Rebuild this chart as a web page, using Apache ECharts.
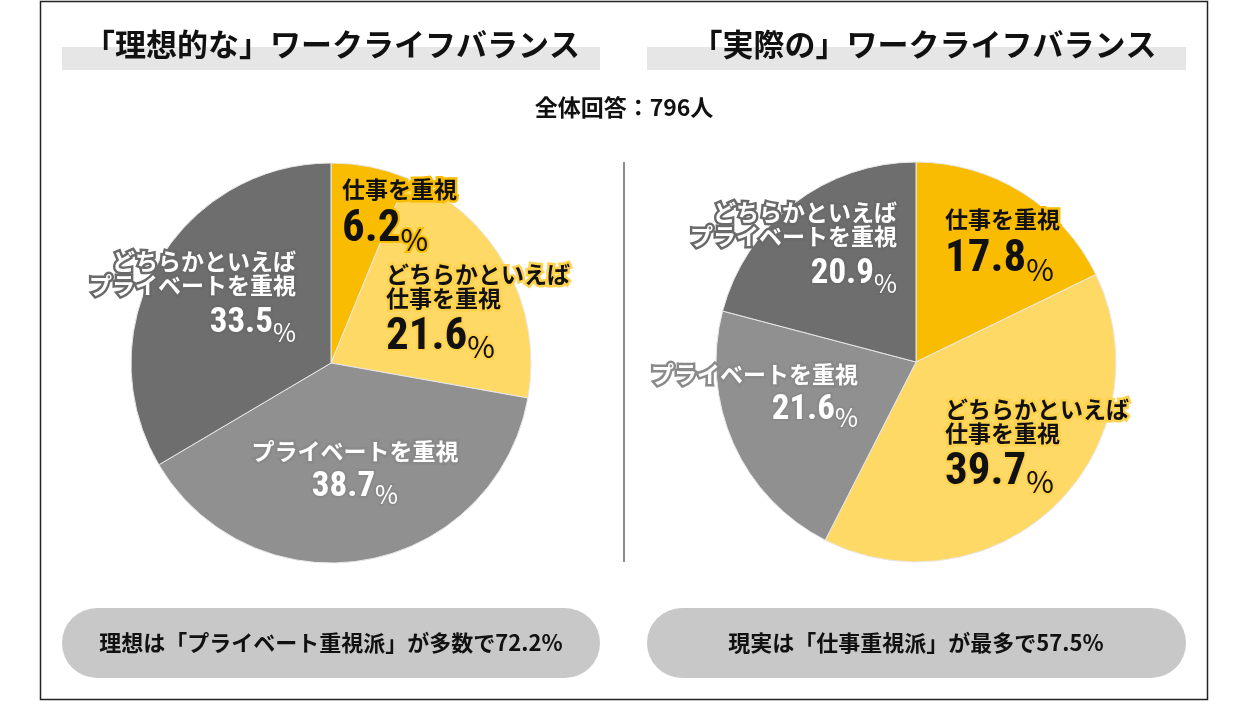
<!DOCTYPE html>
<html>
<head>
<meta charset="utf-8">
<script src="https://cdn.jsdelivr.net/npm/echarts@6/dist/echarts.min.js"></script>
<style>
html,body{margin:0;padding:0;background:#fff;}
#c{width:1248px;height:702px;}
</style>
</head>
<body>
<div id="c"></div>
<script>
// ---- data ----
const categories = ['仕事を重視', 'どちらかといえば\n仕事を重視', 'プライベートを重視', 'どちらかといえば\nプライベートを重視'];
const idealValues = [6.2, 21.6, 38.7, 33.5];
const actualValues = [17.8, 39.7, 21.6, 20.9];
const titles = ['「理想的な」ワークライフバランス', '「実際の」ワークライフバランス'];
const subtitle = '全体回答：796人';
const summaries = ['理想は「プライベート重視派」が多数で72.2%', '現実は「仕事重視派」が最多で57.5%'];

// ---- style / layout ----
const colors = ['#F9BC00', '#FFD966', '#909090', '#6E6E6E'];
const JP = '"Noto Sans CJK JP", "Noto Sans", sans-serif';

// pick a narrow font for the big numbers if one is installed
const mctx = document.createElement('canvas').getContext('2d');
function hasFont(f) {
  mctx.font = 'bold 100px monospace';
  const a = mctx.measureText('0123456789.').width;
  mctx.font = 'bold 100px "' + f + '", monospace';
  const b = mctx.measureText('0123456789.').width;
  return Math.abs(a - b) > 0.5;
}
const narrowCandidates = ['Roboto Condensed', 'Liberation Sans Narrow', 'DejaVu Sans Condensed', 'Noto Sans Condensed', 'Open Sans Condensed', 'Arial Narrow', 'Liberation Sans'];
let NUMF = 'Liberation Sans';
for (const f of narrowCandidates) { if (hasFont(f)) { NUMF = f; break; } }
const NUM = '"' + NUMF + '", sans-serif';
// font size so that "00.0" is about targetW wide, capped by maxSize
function numSize(targetW, maxSize) {
  mctx.font = 'bold 100px ' + NUM;
  const w = mctx.measureText('00.0').width;
  return Math.min(maxSize, Math.floor(targetW / w * 100));
}
const bigNum = numSize(82, 52);
const smallNum = numSize(65, 42);

const pieCenters = [[331, 363], [916, 362]];
const R = 200;
// label anchors: [x, y(top), align] per pie, per slice
const anchors = [
  [[342, 177, 'left'], [386, 262, 'left'], [355, 439, 'center'], [296, 249, 'right']],
  [[945, 207, 'left'], [945, 397, 'left'], [858, 362, 'right'], [897, 200, 'right']]
];
// per slice: [text color, outline color, number size, number lineHeight]
const labelStyles = [
  ['#111', '#F9BC00', bigNum, 58],
  ['#111', '#FFD24D', bigNum, 56],
  ['#fff', '#8A8A8A', smallNum, 48],
  ['#fff', '#6A6A6A', smallNum, 52]
];

function buildData(values) {
  return values.map((v, i) => {
    const s = labelStyles[i];
    return {
      name: categories[i],
      value: v,
      itemStyle: { color: colors[i] },
      label: {
        color: s[0],
        textBorderColor: s[1],
        textBorderWidth: 5,
        rich: {
          n: { fontFamily: JP, fontWeight: 'bold', fontSize: 23, lineHeight: 24, color: s[0], textBorderColor: s[1], textBorderWidth: 5 },
          v: { fontFamily: NUM, fontWeight: 'bold', fontSize: s[2], lineHeight: s[3], color: s[0], textBorderColor: s[1], textBorderWidth: 4 },
          p: { fontFamily: JP, fontWeight: 'normal', fontSize: s[0] === '#111' ? 30 : 25, lineHeight: s[3], color: s[0], textBorderColor: s[1], textBorderWidth: 4, verticalAlign: 'bottom', padding: [0, 0, 4, 0] }
        }
      }
    };
  });
}

function makeSeries(values, k) {
  return {
    type: 'pie',
    center: pieCenters[k],
    radius: [0, R],
    startAngle: 90,
    clockwise: true,
    silent: true,
    animation: false,
    itemStyle: { borderColor: '#E8E8E8', borderWidth: 1 },
    label: {
      show: true,
      position: 'inside',
      formatter: p => {
        const lines = p.name.split('\n').map(t => '{n|' + t + '}');
        return lines.join('\n') + '\n{v|' + p.value.toFixed(1) + '}{p|%}';
      }
    },
    labelLine: { show: false },
    labelLayout: p => {
      const a = anchors[k][p.dataIndex];
      return { x: a[0], y: a[1], align: a[2], verticalAlign: 'top', hideOverlap: false };
    },
    data: buildData(values)
  };
}

const chart = echarts.init(document.getElementById('c'), null, { renderer: 'canvas' });
chart.setOption({
  backgroundColor: '#fff',
  animation: false,
  graphic: [
    { type: 'rect', shape: { x: 40.5, y: 1.5, width: 1167, height: 698 }, style: { fill: 'none', stroke: '#222', lineWidth: 1.5 }, z: 0 },
    { type: 'rect', shape: { x: 62, y: 47, width: 538, height: 23 }, style: { fill: '#E6E6E6' }, z: 0 },
    { type: 'rect', shape: { x: 647, y: 47, width: 539, height: 23 }, style: { fill: '#E6E6E6' }, z: 0 },
    { type: 'text', x: 332, y: 44, style: { text: titles[0], font: 'bold 31px ' + JP, fill: '#111', align: 'center', verticalAlign: 'middle' }, z: 2 },
    { type: 'text', x: 924, y: 44, style: { text: titles[1], font: 'bold 31px ' + JP, fill: '#111', align: 'center', verticalAlign: 'middle' }, z: 2 },
    { type: 'text', x: 624, y: 107, style: { text: subtitle, font: 'bold 23px ' + JP, fill: '#111', align: 'center', verticalAlign: 'middle' }, z: 2 },
    { type: 'line', shape: { x1: 624, y1: 162, x2: 624, y2: 562 }, style: { stroke: '#8C8C8C', lineWidth: 2 }, z: 0 },
    { type: 'rect', shape: { x: 62, y: 608, width: 538, height: 70, r: 35 }, style: { fill: '#C8C8C8' }, z: 0 },
    { type: 'rect', shape: { x: 647, y: 608, width: 539, height: 70, r: 35 }, style: { fill: '#C8C8C8' }, z: 0 },
    { type: 'text', x: 331, y: 643, style: { text: summaries[0], font: 'bold 22px ' + JP, fill: '#111', align: 'center', verticalAlign: 'middle' }, z: 2 },
    { type: 'text', x: 916, y: 643, style: { text: summaries[1], font: 'bold 22px ' + JP, fill: '#111', align: 'center', verticalAlign: 'middle' }, z: 2 }
  ],
  series: [makeSeries(idealValues, 0), makeSeries(actualValues, 1)]
});
</script>
</body>
</html>
